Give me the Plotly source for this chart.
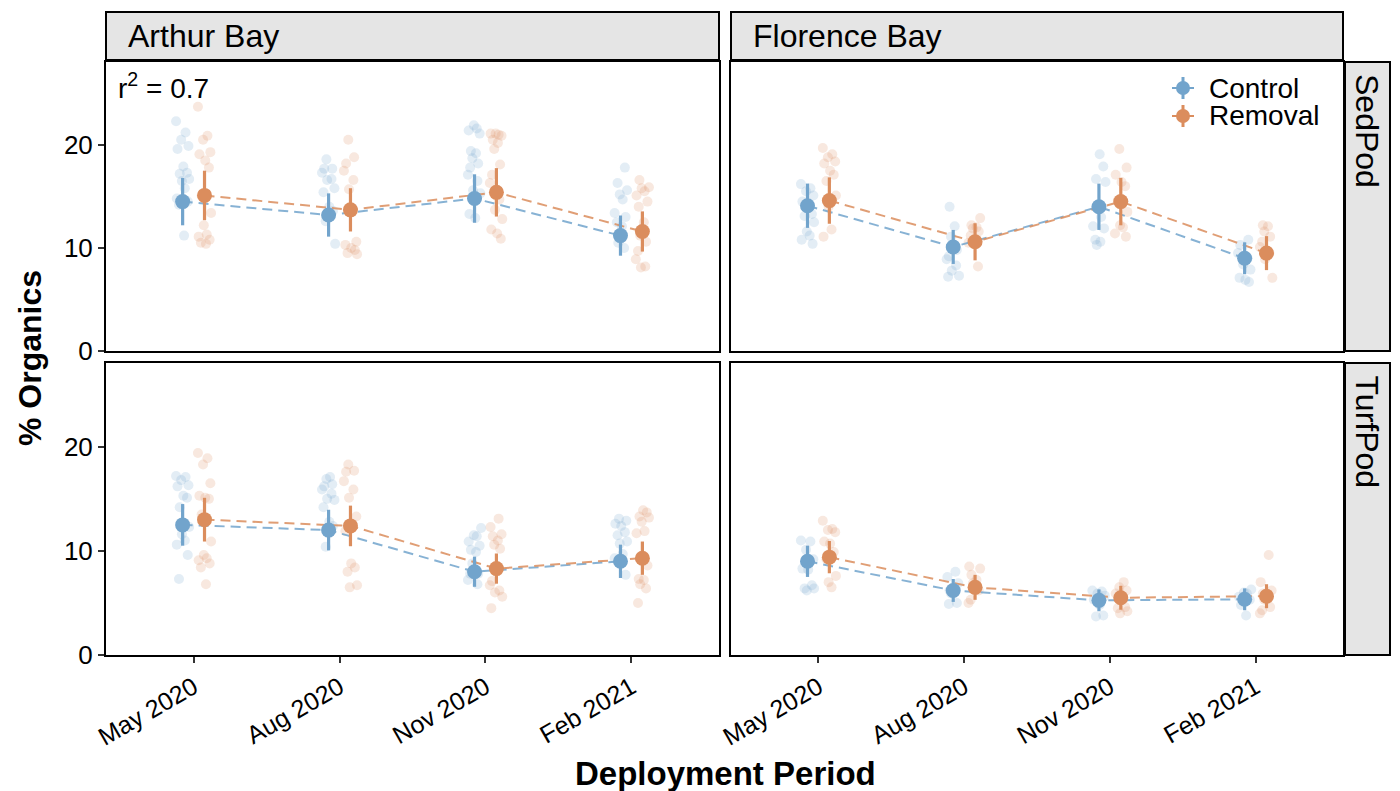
import plotly.graph_objects as go
from plotly.subplots import make_subplots

# ---------------------------------------------------------------- data
PERIODS = ["May 2020", "Aug 2020", "Nov 2020", "Feb 2021"]
SITES = ["Arthur Bay", "Florence Bay"]
PODS = ["SedPod", "TurfPod"]
TREATMENTS = ["Control", "Removal"]

# individual samples (% organics), one list per deployment period
ARTHUR_SED_CONTROL = [
    [22.3, 21.2, 20.5, 19.9, 19.6, 17.9, 17.3, 17.2, 16.7, 16.5, 15.8, 14.8, 14.5, 14.2, 11.2],
    [18.6, 17.7, 17.7, 17.3, 16.7, 16.6, 15.8, 15.4, 14.0, 13.6, 12.6, 10.4],
    [21.9, 21.6, 21.4, 21.1, 19.4, 19.2, 18.7, 18.2, 17.8, 17.1, 16.5, 15.6, 15.3, 13.3, 12.9],
    [17.8, 16.3, 15.6, 15.2, 14.7, 13.4, 13.0, 12.5, 12.1, 10.5, 10.0],
]
ARTHUR_SED_REMOVAL = [
    [23.7, 20.9, 20.5, 19.3, 19.1, 18.5, 17.8, 15.1, 13.4, 12.2, 11.3, 11.1, 10.8, 10.5, 10.4],
    [20.5, 18.8, 18.2, 17.5, 16.6, 15.7, 10.6, 10.3, 10.0, 9.8, 9.5, 9.4],
    [21.1, 21.0, 21.1, 20.9, 20.5, 20.2, 19.6, 18.1, 17.1, 16.3, 14.7, 13.7, 12.8, 11.8, 11.4, 10.9],
    [16.6, 15.9, 15.8, 15.5, 15.1, 14.5, 14.0, 12.5, 11.2, 10.6, 9.7, 8.9, 8.2, 8.1],
]
FLORENCE_SED_CONTROL = [
    [16.2, 15.8, 15.5, 15.1, 14.5, 14.0, 13.3, 13.1, 12.5, 11.6, 11.2, 10.8, 10.4],
    [14.0, 12.1, 11.1, 9.8, 9.2, 8.9, 8.3, 7.8, 7.3, 7.2],
    [19.1, 17.9, 16.7, 16.4, 14.0, 13.0, 12.1, 11.9, 10.8, 10.6, 10.3],
    [10.8, 10.3, 9.5, 9.0, 8.4, 7.9, 7.1, 6.9, 6.7],
]
FLORENCE_SED_REMOVAL = [
    [19.7, 19.1, 18.8, 18.4, 18.2, 17.5, 17.1, 16.5, 15.1, 14.0, 11.8, 11.1],
    [12.9, 12.2, 12.0, 11.9, 11.6, 11.2, 10.5, 8.2],
    [19.6, 17.8, 17.1, 16.4, 16.0, 14.6, 13.5, 12.2, 12.0, 11.4, 11.1],
    [12.2, 12.1, 11.6, 11.1, 10.6, 10.1, 9.5, 8.9, 7.1],
]
ARTHUR_TURF_CONTROL = [
    [17.2, 17.1, 16.8, 16.3, 16.2, 15.3, 15.1, 14.2, 12.3, 11.6, 11.0, 10.6, 9.6, 7.3],
    [17.1, 16.9, 16.4, 16.2, 15.9, 15.5, 15.0, 14.9, 14.2, 12.8, 12.4, 10.4],
    [12.2, 11.5, 11.4, 10.9, 10.5, 10.1, 9.9, 8.8, 7.8, 7.8, 7.2, 6.8],
    [13.1, 12.9, 12.6, 12.4, 11.8, 11.5, 10.9, 10.7, 9.7, 9.3, 7.7],
]
ARTHUR_TURF_REMOVAL = [
    [19.4, 18.9, 18.3, 16.5, 15.3, 15.1, 15.0, 13.5, 10.9, 9.6, 9.3, 9.1, 8.8, 8.4, 6.8],
    [18.3, 17.7, 17.6, 16.7, 15.9, 15.1, 13.3, 11.9, 8.8, 8.4, 8.0, 6.7, 6.5],
    [13.1, 12.3, 11.6, 11.4, 11.0, 10.6, 10.2, 7.1, 6.7, 6.2, 6.0, 5.6, 4.5],
    [13.9, 13.7, 13.3, 13.2, 12.8, 11.9, 11.7, 8.6, 7.3, 7.2, 6.8, 6.4, 5.0],
]
FLORENCE_TURF_CONTROL = [
    [11.0, 10.9, 10.1, 9.2, 8.3, 8.2, 6.7, 6.4, 6.4, 6.2],
    [8.0, 7.5, 6.9, 6.2, 6.1, 5.9, 5.0, 4.9],
    [6.2, 6.1, 5.9, 5.7, 5.3, 4.8, 3.8, 3.7],
    [6.3, 6.0, 5.9, 5.6, 5.3, 4.8, 3.8],
]
FLORENCE_TURF_REMOVAL = [
    [12.9, 12.1, 12.0, 11.8, 10.9, 10.7, 9.9, 9.2, 7.6, 7.0, 6.5],
    [8.5, 8.3, 7.7, 7.2, 6.9, 6.2, 5.3, 5.0],
    [7.0, 6.5, 6.2, 5.9, 5.3, 4.6, 4.5, 4.2, 4.0],
    [9.6, 7.0, 6.2, 5.9, 5.4, 5.3, 4.6, 4.3, 4.0],
]

# model means and interval half-widths per period
ARTHUR_SED_CONTROL_MEAN = [14.5, 13.2, 14.8, 11.2]
ARTHUR_SED_CONTROL_ERR = [2.3, 2.1, 2.35, 1.95]
ARTHUR_SED_REMOVAL_MEAN = [15.1, 13.7, 15.4, 11.6]
ARTHUR_SED_REMOVAL_ERR = [2.4, 2.1, 2.35, 1.95]
FLORENCE_SED_CONTROL_MEAN = [14.1, 10.1, 14.0, 9.0]
FLORENCE_SED_CONTROL_ERR = [2.15, 1.65, 2.25, 1.55]
FLORENCE_SED_REMOVAL_MEAN = [14.6, 10.6, 14.5, 9.5]
FLORENCE_SED_REMOVAL_ERR = [2.25, 1.8, 2.3, 1.65]
ARTHUR_TURF_CONTROL_MEAN = [12.5, 12.0, 8.0, 9.0]
ARTHUR_TURF_CONTROL_ERR = [2.0, 1.95, 1.45, 1.6]
ARTHUR_TURF_REMOVAL_MEAN = [13.0, 12.4, 8.3, 9.3]
ARTHUR_TURF_REMOVAL_ERR = [2.1, 1.95, 1.45, 1.6]
FLORENCE_TURF_CONTROL_MEAN = [9.0, 6.2, 5.25, 5.35]
FLORENCE_TURF_CONTROL_ERR = [1.5, 1.1, 1.05, 1.05]
FLORENCE_TURF_REMOVAL_MEAN = [9.4, 6.5, 5.5, 5.65]
FLORENCE_TURF_REMOVAL_ERR = [1.55, 1.2, 1.15, 1.15]

R2_LABEL = "r<sup>2</sup> = 0.7"

# ---------------------------------------------------------------- styling
COLORS = {"Control": "#72A4CC", "Removal": "#DB8D5D"}
LINE_COLORS = {"Control": "rgba(114,164,204,0.85)", "Removal": "rgba(219,141,93,0.85)"}
DODGE = {"Control": -0.075, "Removal": 0.075}
# fixed horizontal scatter pattern for the raw samples
JITTER = [-0.045, 0.02, -0.01, 0.04, -0.035, 0.005, 0.03, -0.02, 0.045, -0.005,
          0.015, -0.04, 0.035, -0.025, 0.01, -0.015, 0.025, -0.03]
FONT = "Liberation Sans, Arial, sans-serif"

PANELS = {
    ("Arthur Bay", "SedPod"): (1, 1, ARTHUR_SED_CONTROL, ARTHUR_SED_CONTROL_MEAN, ARTHUR_SED_CONTROL_ERR,
                               ARTHUR_SED_REMOVAL, ARTHUR_SED_REMOVAL_MEAN, ARTHUR_SED_REMOVAL_ERR),
    ("Florence Bay", "SedPod"): (1, 2, FLORENCE_SED_CONTROL, FLORENCE_SED_CONTROL_MEAN, FLORENCE_SED_CONTROL_ERR,
                                 FLORENCE_SED_REMOVAL, FLORENCE_SED_REMOVAL_MEAN, FLORENCE_SED_REMOVAL_ERR),
    ("Arthur Bay", "TurfPod"): (2, 1, ARTHUR_TURF_CONTROL, ARTHUR_TURF_CONTROL_MEAN, ARTHUR_TURF_CONTROL_ERR,
                                ARTHUR_TURF_REMOVAL, ARTHUR_TURF_REMOVAL_MEAN, ARTHUR_TURF_REMOVAL_ERR),
    ("Florence Bay", "TurfPod"): (2, 2, FLORENCE_TURF_CONTROL, FLORENCE_TURF_CONTROL_MEAN, FLORENCE_TURF_CONTROL_ERR,
                                  FLORENCE_TURF_REMOVAL, FLORENCE_TURF_REMOVAL_MEAN, FLORENCE_TURF_REMOVAL_ERR),
}

fig = make_subplots(rows=2, cols=2, horizontal_spacing=0.01, vertical_spacing=0.01)

for key, (row, col, c_pts, c_mean, c_err, r_pts, r_mean, r_err) in PANELS.items():
    groups = {"Control": (c_pts, c_mean, c_err), "Removal": (r_pts, r_mean, r_err)}
    # raw samples
    for trt, (pts, mean, err) in groups.items():
        xs, ys = [], []
        k = 0
        for i, vals in enumerate(pts):
            for v in vals:
                xs.append(i + 1 + DODGE[trt] + JITTER[k % len(JITTER)])
                ys.append(v)
                k += 1
        fig.add_trace(go.Scatter(
            x=xs, y=ys, mode="markers", showlegend=False, hoverinfo="skip",
            marker=dict(size=10, color=COLORS[trt], opacity=0.2, line=dict(width=0)),
        ), row=row, col=col)
    # dashed lines joining the means
    for trt, (pts, mean, err) in groups.items():
        fig.add_trace(go.Scatter(
            x=[i + 1 + DODGE[trt] for i in range(len(mean))], y=mean, mode="lines",
            showlegend=False, hoverinfo="skip",
            line=dict(color=LINE_COLORS[trt], width=2, dash="10px,6px"),
        ), row=row, col=col)
    # means with intervals
    for trt, (pts, mean, err) in groups.items():
        fig.add_trace(go.Scatter(
            x=[i + 1 + DODGE[trt] for i in range(len(mean))], y=mean, mode="markers",
            showlegend=False, name=trt,
            marker=dict(size=15, color=COLORS[trt], line=dict(width=0)),
            error_y=dict(type="data", array=err, visible=True, color=COLORS[trt],
                         thickness=3.2, width=0),
        ), row=row, col=col)

# ---------------------------------------------------------------- layout geometry
W, H = 1400, 791
X_DOM = [(106 / W, 719 / W), (731 / W, 1343 / W)]
Y_DOM = [(1 - 351 / H, 1 - 62 / H), (1 - 655 / H, 1 - 363 / H)]

for row in (1, 2):
    for col in (1, 2):
        fig.update_xaxes(
            domain=X_DOM[col - 1], range=[0.4, 4.6], tickvals=[1, 2, 3, 4], ticktext=PERIODS,
            showticklabels=(row == 2), ticks="outside" if row == 2 else "",
            ticklen=6, tickwidth=1.5, tickcolor="#333333", tickangle=-30,
            tickfont=dict(family=FONT, size=25, color="black"), automargin=False,
            showline=True, mirror=True, linecolor="black", linewidth=2,
            showgrid=False, zeroline=False, row=row, col=col)
        fig.update_yaxes(
            domain=Y_DOM[row - 1], range=[0, 28.05], tickvals=[0, 10, 20],
            showticklabels=(col == 1), ticks="outside" if col == 1 else "",
            ticklen=6, tickwidth=1.5, tickcolor="#333333",
            tickfont=dict(family=FONT, size=26, color="black"), automargin=False,
            showline=True, mirror=True, linecolor="black", linewidth=2,
            showgrid=False, zeroline=False, row=row, col=col)

shapes = []
annotations = []

# facet strips
for i, site in enumerate(SITES):
    x0, x1 = X_DOM[i]
    shapes.append(dict(type="rect", xref="paper", yref="paper", x0=x0, x1=x1,
                       y0=1 - 60 / H, y1=1 - 12 / H, fillcolor="#E5E5E5",
                       line=dict(color="black", width=2), layer="below"))
    annotations.append(dict(text=site, xref="paper", yref="paper", x=x0 + 20 / W,
                            y=1 - 36 / H, xanchor="left", yanchor="middle", showarrow=False,
                            font=dict(family=FONT, size=32, color="black")))
for j, pod in enumerate(PODS):
    y0, y1 = Y_DOM[j]
    shapes.append(dict(type="rect", xref="paper", yref="paper", x0=1345 / W, x1=1390 / W,
                       y0=y0, y1=y1, fillcolor="#E5E5E5",
                       line=dict(color="black", width=2), layer="below"))
    annotations.append(dict(text=pod, xref="paper", yref="paper", x=1367 / W,
                            y=y1 - 10 / H, xanchor="center", yanchor="top", textangle=90,
                            showarrow=False, font=dict(family=FONT, size=32, color="black")))

# r-squared label
annotations.append(dict(text=R2_LABEL, xref="paper", yref="paper", x=116 / W, y=1 - 86 / H,
                        xanchor="left", yanchor="middle", showarrow=False,
                        font=dict(family=FONT, size=28, color="black")))

# axis titles
annotations.append(dict(text="<b>% Organics</b>", xref="paper", yref="paper", x=30 / W,
                        y=1 - 358 / H, xanchor="center", yanchor="middle", textangle=-90,
                        showarrow=False, font=dict(family=FONT, size=32, color="black")))
annotations.append(dict(text="<b>Deployment Period</b>", xref="paper", yref="paper",
                        x=725 / W, y=1 - 773 / H, xanchor="center", yanchor="middle",
                        showarrow=False, font=dict(family=FONT, size=33, color="black")))

# legend keys: point with crossing interval lines
for k, trt in enumerate(TREATMENTS):
    cx, cy = 1183, 88 + 28 * k
    col_ = COLORS[trt]
    shapes.append(dict(type="line", xref="paper", yref="paper", x0=cx / W, x1=cx / W,
                       y0=1 - (cy - 11) / H, y1=1 - (cy + 11) / H, line=dict(color=col_, width=3)))
    shapes.append(dict(type="line", xref="paper", yref="paper", x0=(cx - 11) / W, x1=(cx + 11) / W,
                       y0=1 - cy / H, y1=1 - cy / H, line=dict(color=col_, width=2)))
    shapes.append(dict(type="circle", xref="paper", yref="paper", x0=(cx - 7) / W, x1=(cx + 7) / W,
                       y0=1 - (cy - 7) / H, y1=1 - (cy + 7) / H, fillcolor=col_,
                       line=dict(width=0)))
    annotations.append(dict(text=trt, xref="paper", yref="paper", x=1207 / W, y=1 - cy / H,
                            xanchor="left", yanchor="middle", showarrow=False,
                            font=dict(family=FONT, size=28, color="black")))

fig.update_layout(
    width=W, height=H, margin=dict(l=0, r=0, t=0, b=0),
    paper_bgcolor="white", plot_bgcolor="white", showlegend=False,
    shapes=shapes, annotations=annotations,
    font=dict(family=FONT, color="black"),
)

fig.write_html("out.html")
